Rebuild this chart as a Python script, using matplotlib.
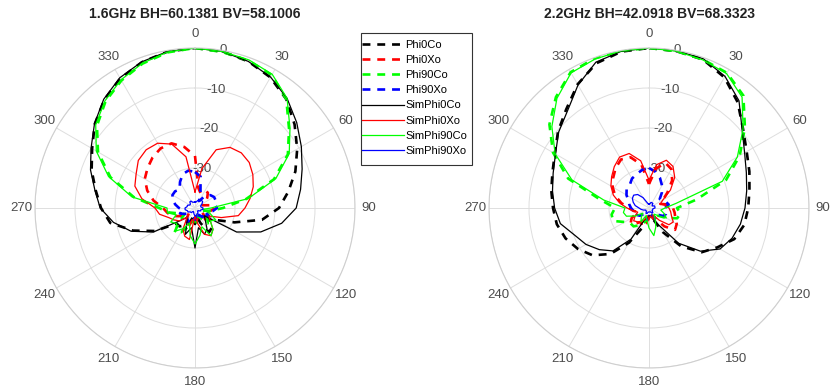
import numpy as np
import matplotlib
matplotlib.use("Agg")
import matplotlib.pyplot as plt
from matplotlib.patches import Rectangle

plt.rcParams['font.family'] = ['Liberation Sans', 'DejaVu Sans']

# sampling angles (deg), 0 at top, clockwise
angles = np.arange(0, 360, 10)

# ---- 1.6 GHz (dB) ----
phi0co_16 = [0, -0.3, -1.0, -2.3, -4.5, -7.5, -10.5, -13.3, -16.3, -19, -23, -29.5,
             -34, -36, -33.5, -33, -36, -38, -36, -38, -36, -35, -34, -34,
             -28.5, -23.5, -18.5, -16.5, -14.8, -12.5, -10.3, -7.3, -4.7, -2.6, -1.2, -0.3]
phi0xo_16 = [-27, -35, -36, -35, -35, -36, -37, -38, -36, -35, -36, -37,
             -38, -37, -36, -37, -38, -37, -38, -37, -35, -36, -37, -38,
             -36, -34, -33, -32, -29.5, -27.3, -25.5, -24.5, -23.5, -22.8, -22.8, -24.5]
phi90co_16 = [0, -0.4, -0.8, -1.6, -4.5, -9.3, -13.2, -19, -27, -33, -36, -38,
              -37, -36, -35, -37, -38, -36, -37, -36, -35, -33, -32, -35,
              -37, -36, -33.5, -31, -24.5, -17.5, -12, -8, -5.2, -3.2, -1.6, -0.5]
phi90xo_16 = [-31, -32, -36, -38, -36, -35, -34.5, -34.5, -35, -34.5, -35.5, -37,
              -36, -38, -37, -38, -37, -38, -37, -38, -37, -36, -37, -38,
              -37, -36, -37, -36, -35, -34, -33.5, -33.5, -34, -32.5, -31, -30.5]
simphi0co_16 = [0, -0.3, -1.0, -2.2, -4.2, -6.8, -9.3, -11.5, -13.2, -14.7, -18, -22.5,
                -28, -37, -36, -34, -33, -35, -30, -35, -33, -36, -37, -35,
                -28, -23, -19.3, -16.3, -14.6, -12.2, -10, -7.2, -4.5, -2.4, -1.1, -0.3]
simphi0xo_16 = [-36, -30, -24.5, -22.5, -22, -22.3, -23.3, -24.5, -26, -27.5, -29, -33,
                -36, -35, -33, -32, -33, -36, -38, -32, -32.5, -34, -37, -35,
                -34, -33, -31, -30, -26.5, -24, -23, -21.5, -21, -21.3, -23, -27]
simphi90co_16 = [0, -0.3, -0.6, -1.4, -4.2, -9, -12.8, -18.5, -26.5, -36, -38, -36,
                 -34, -35, -33, -32, -35, -33, -31, -33, -36, -34, -32.5, -34,
                 -33, -35, -33, -33, -24, -17, -11.5, -7.6, -5, -3, -1.5, -0.4]
simphi90xo_16 = [-38.5, -38.5, -38, -38, -37.5, -37.5, -38, -38.5, -38.5, -38, -38, -38.5,
                 -38.5, -39, -39, -38.5, -38.5, -38, -38, -38.5, -39, -39, -38.5, -38.5,
                 -38, -38, -37.5, -37.5, -38, -38, -38.5, -38.5, -38, -38, -38.5, -38.5]

# ---- 2.2 GHz (dB) ----
phi0co_22 = [0, -0.2, -0.5, -2.3, -5.5, -9.3, -11.8, -13.3, -14.5, -15.2, -15.8, -17.3,
             -20.3, -22.8, -27.5, -33, -37, -38, -38, -37, -34.5, -30, -25, -21.6,
             -19.5, -17.8, -16.6, -16, -15.2, -14.3, -12.8, -10.3, -7.8, -4.3, -1.5, -0.3]
phi0xo_22 = [-34, -30, -28, -28.8, -31, -34, -36, -37, -35, -34, -33.5, -33,
             -32, -31.5, -34, -37, -38, -37, -38, -36, -35, -36, -35, -34,
             -35, -37, -36, -35, -33, -31, -29.5, -28.3, -27, -26, -26.5, -29]
phi90co_22 = [0, -0.2, -0.5, -1.0, -3.3, -8.7, -13.8, -19.5, -28, -33, -32, -32.5,
              -35, -37, -38, -37, -38, -37, -38, -37, -36, -35, -34, -34,
              -33, -30.5, -30.5, -31.5, -27.5, -18.5, -12.3, -7.5, -3.8, -0.8, -0.2, -0.1]
phi90xo_22 = [-30, -30.8, -32, -33.5, -35, -36.5, -36, -35.5, -35, -36, -35.5, -35.5,
              -36, -37.5, -38, -37, -38, -37, -38, -37, -38, -37.5, -38, -37,
              -36.5, -37, -36, -35.5, -35, -34.5, -33.5, -32.7, -32.5, -31.5, -31, -30.3]
simphi0co_22 = [0, -0.1, -0.3, -2.0, -5.0, -9.6, -12.4, -14.1, -15.2, -16, -16.8, -17.9,
                -19.5, -23.2, -28.5, -35, -37, -38, -38, -37.5, -37, -31, -26, -23.8,
                -21.8, -20.2, -17.5, -16.4, -15.5, -14.5, -13, -10.5, -8.3, -4.5, -1.2, -0.2]
simphi0xo_22 = [-33, -29, -27.3, -28, -30, -33, -36, -37, -36, -35, -34.5, -34,
                -33, -33.5, -36, -38, -37, -38, -37, -38, -37, -36, -35.5, -35,
                -36, -37, -36, -34.5, -32.5, -30.5, -29, -27.8, -26.5, -25.3, -25.5, -28]
simphi90co_22 = [0, -0.2, -0.6, -1.2, -3.8, -9.3, -14.5, -20.5, -33, -36, -37, -36,
                 -35, -37, -38, -37, -35, -33, -35, -37, -38, -36, -37, -38,
                 -36, -34, -33.5, -34, -28.5, -19.5, -12.9, -8.3, -4.2, -1.0, -0.4, -0.1]
simphi90xo_22 = [-39, -39, -38.5, -38.5, -38.5, -39, -39, -38.5, -38.5, -38.5, -39, -39,
                 -39, -39, -38.5, -38.5, -39, -39, -39, -39, -38.5, -38.5, -39, -39,
                 -39, -38.5, -38, -37.5, -36.5, -35.8, -35.2, -35, -35.6, -37, -38.5, -39]

labels = ['Phi0Co', 'Phi0Xo', 'Phi90Co', 'Phi90Xo',
          'SimPhi0Co', 'SimPhi0Xo', 'SimPhi90Co', 'SimPhi90Xo']
colors = ['black', '#ff0000', '#00ff00', '#0000ff']

panels = [
    ('1.6GHz BH=60.1381 BV=58.1006', 35,
     [phi0co_16, phi0xo_16, phi90co_16, phi90xo_16,
      simphi0co_16, simphi0xo_16, simphi90co_16, simphi90xo_16]),
    ('2.2GHz BH=42.0918 BV=68.3323', 489,
     [phi0co_22, phi0xo_22, phi90co_22, phi90xo_22,
      simphi0co_22, simphi0xo_22, simphi90co_22, simphi90xo_22]),
]

W, H = 830, 392
fig = plt.figure(figsize=(W / 100, H / 100), dpi=100)

theta = np.deg2rad(np.append(angles, 360))
handles = []
for title, left_px, series in panels:
    ax = fig.add_axes([left_px / W, 24 / H, 320 / W, 320 / H], projection='polar')
    ax.set_theta_zero_location('N')
    ax.set_theta_direction(-1)
    for i, vals in enumerate(series):
        r = np.append(vals, vals[0])
        if i < 4:
            ln, = ax.plot(theta, r, color=colors[i], lw=1.9, ls=(0, (3.0, 2.6)))
        else:
            ln, = ax.plot(theta, r, color=colors[i - 4], lw=0.9)
        if len(handles) < 8:
            handles.append(ln)
    ax.set_rlim(-40, 0)
    ax.set_rticks([-30, -20, -10, 0])
    ax.set_yticklabels(['-30', '-20', '-10', '0'])
    ax.set_rlabel_position(10)
    ax.set_thetagrids(np.arange(0, 360, 30), labels=[str(a) for a in range(0, 360, 30)])
    ax.tick_params(axis='x', pad=-0.5, labelsize=9.5, colors='#4d4d4d')
    ax.tick_params(axis='y', pad=0, labelsize=9.5, colors='#4d4d4d')
    for lab in ax.get_yticklabels():
        lab.set_horizontalalignment('center')
        lab.set_verticalalignment('center')
    ax.grid(True, color='#dedede', lw=0.7)
    ax.spines['polar'].set_color('#cfcfcf')
    ax.spines['polar'].set_linewidth(0.8)
    fig.text((left_px + 160) / W, 1 - 14 / H, title, ha='center', va='center',
             fontsize=10, fontweight='bold', color='#222222')

# legend without its own frame; box drawn separately to match the reference
leg = fig.legend(handles, labels, loc='upper left',
                 bbox_to_anchor=(362 / W, 1 - 40 / H), fontsize=8,
                 frameon=False, handlelength=3.8, handletextpad=0.1,
                 labelspacing=0.46, borderpad=0, borderaxespad=0)
fig.patches.append(Rectangle((361 / W, 1 - 165 / H), 111 / W, 132 / H,
                             transform=fig.transFigure, fill=False,
                             edgecolor='#333333', linewidth=0.8))

plt.savefig('out.png', dpi=100)
plt.close()
